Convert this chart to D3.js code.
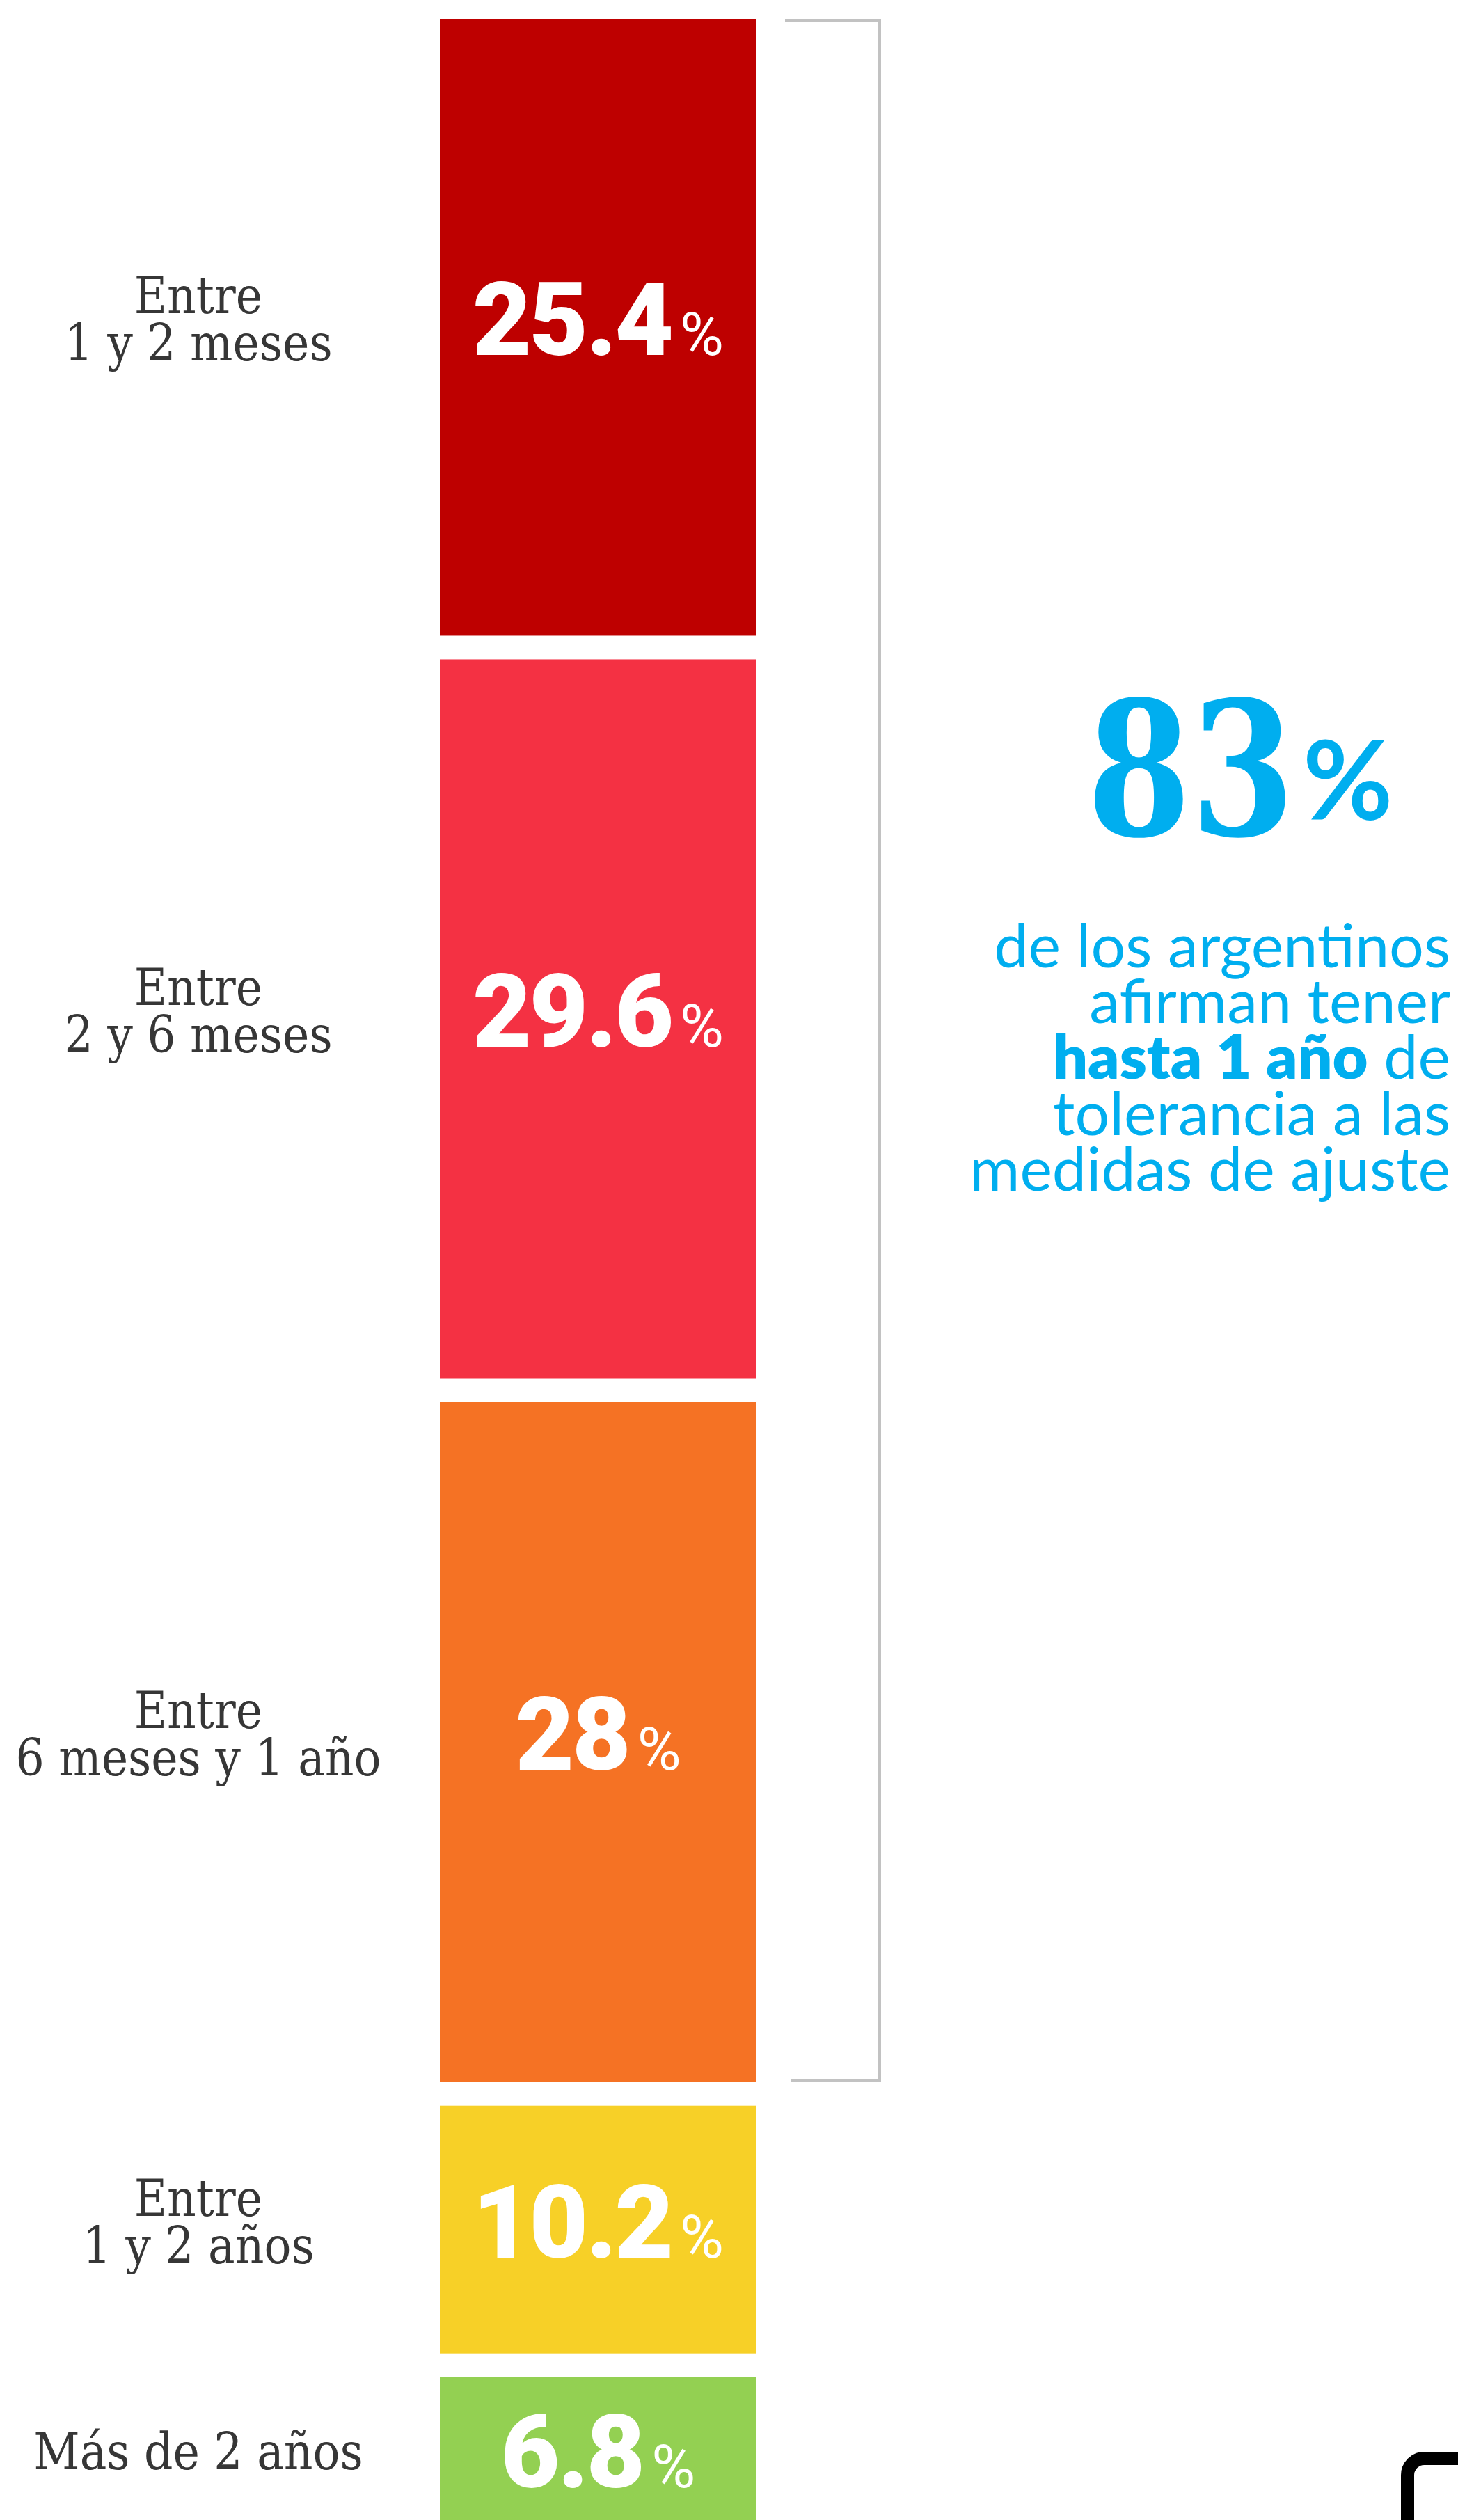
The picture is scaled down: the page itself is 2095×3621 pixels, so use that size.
<!DOCTYPE html>
<html>
<head>
<meta charset="utf-8">
<script src="https://cdn.jsdelivr.net/npm/d3@7"></script>
<style>
  html, body { margin: 0; padding: 0; background: #ffffff; }
  svg { display: block; }
</style>
</head>
<body>
<script>
// ---------------- DATA ----------------
const categoryLines = [
  ["Entre", "1 y 2 meses"],
  ["Entre", "2 y 6 meses"],
  ["Entre", "6 meses y 1 año"],
  ["Entre", "1 y 2 años"],
  ["Más de 2 años"]
];
const values = [25.4, 29.6, 28, 10.2, 6.8];
const valueLabels = ["25.4", "29.6", "28", "10.2", "6.8"];
const barColors = ["#BE0000", "#F43143", "#F57224", "#F7D027", "#93D052"];
const bracketCount = 3;          // first three categories (hasta 1 año)
const bracketLabel = "83";
const annotationLines = [
  [{t: "de los argentinos", b: false}],
  [{t: "afirman tener", b: false}],
  [{t: "hasta 1 año", b: true}, {t: " de", b: false}],
  [{t: "tolerancia a las", b: false}],
  [{t: "medidas de ajuste", b: false}]
];

// ---------------- LAYOUT ----------------
const W = 2095, H = 3621;
const topY = 27, plotH = 3490, gap = 34;
const barX0 = 632, barX1 = 1087;
const labelCX = 285;
const blue = "#00AEEF";

const svg = d3.select("body").append("svg")
  .attr("width", W).attr("height", H)
  .attr("viewBox", `0 0 ${W} ${H}`);

const total = d3.sum(values);
const y = d3.scaleLinear().domain([0, total]).range([topY, topY + plotH]);
const x = d3.scaleBand().domain(["col"]).range([barX0, barX1]).padding(0);

const starts = [0, ...d3.cumsum(values)];
const data = values.map((v, i) => ({
  v, i,
  y0: y(starts[i]) + i * gap,
  y1: y(starts[i] + v) + i * gap
}));

// bars
svg.append("g").selectAll("rect").data(data).join("rect")
  .attr("x", x("col"))
  .attr("width", x.bandwidth())
  .attr("y", d => d.y0)
  .attr("height", d => d.y1 - d.y0)
  .attr("fill", d => barColors[d.i]);

// value labels
const vl = svg.append("g").selectAll("text").data(data).join("text")
  .attr("x", x("col") + x.bandwidth() / 2)
  .attr("y", d => (d.y0 + d.y1) / 2 + 40)
  .attr("text-anchor", "middle")
  .attr("fill", "#ffffff");
vl.append("tspan")
  .attr("font-family", "Roboto, 'Open Sans', sans-serif")
  .attr("font-weight", 900)
  .attr("font-size", 146)
  .attr("letter-spacing", -3)
  .text(d => valueLabels[d.i]);
vl.append("tspan")
  .attr("dx", 12)
  .attr("font-family", "Roboto, 'Open Sans', sans-serif")
  .attr("font-weight", 400)
  .attr("font-size", 86)
  .text("%");

// category labels
const lineH = 68, capH = 52;
svg.append("g").selectAll("text").data(data).join("text")
  .attr("text-anchor", "middle")
  .attr("font-family", "'DejaVu Serif Condensed', 'DejaVu Serif', serif")
  .attr("font-size", 72)
  .attr("fill", "#363636")
  .each(function(d) {
    const lines = categoryLines[d.i];
    const cy = (d.y0 + d.y1) / 2 - 12;
    const blockH = capH + (lines.length - 1) * lineH;
    const firstBase = cy - blockH / 2 + capH;
    d3.select(this).selectAll("tspan").data(lines).join("tspan")
      .attr("x", labelCX)
      .attr("y", (t, k) => firstBase + k * lineH)
      .text(t => t);
  });

// bracket around first three bars
const bTop = data[0].y0 + 2;
const bBot = data[bracketCount - 1].y1 - 2;
svg.append("path")
  .attr("d", `M1128,${bTop} H1264 V${bBot} H1137`)
  .attr("fill", "none")
  .attr("stroke", "#c2c2c2")
  .attr("stroke-width", 4);

// big 83%
svg.append("text")
  .attr("transform", "translate(1562,1200) scale(0.8,1)")
  .attr("font-family", "'DejaVu Serif', serif")
  .attr("font-weight", 700)
  .attr("font-size", 268)
  .attr("fill", blue)
  .text(bracketLabel);
svg.append("text")
  .attr("x", 1872).attr("y", 1178)
  .attr("font-family", "Lato, 'Open Sans', sans-serif")
  .attr("font-weight", 700)
  .attr("font-size", 158)
  .attr("fill", blue)
  .text("%");

// annotation text (one text block, one chunk per line)
const annBase = [1390, 1470, 1550, 1631, 1711];
const ann = svg.append("text")
  .attr("text-anchor", "end")
  .attr("font-family", "Lato, 'Open Sans', sans-serif")
  .attr("font-size", 88)
  .attr("fill", blue);
annotationLines.forEach((parts, k) => {
  parts.forEach((p, j) => {
    const ts = ann.append("tspan")
      .attr("font-weight", p.b ? 800 : 400)
      .text(p.t);
    if (j === 0) ts.attr("x", 2084).attr("y", annBase[k]);
  });
});

// partial logo glyph at bottom right
svg.append("rect")
  .attr("x", 2022.5).attr("y", 3532.5)
  .attr("width", 110).attr("height", 150)
  .attr("rx", 24)
  .attr("fill", "none")
  .attr("stroke", "#000000")
  .attr("stroke-width", 19);
</script>
</body>
</html>
